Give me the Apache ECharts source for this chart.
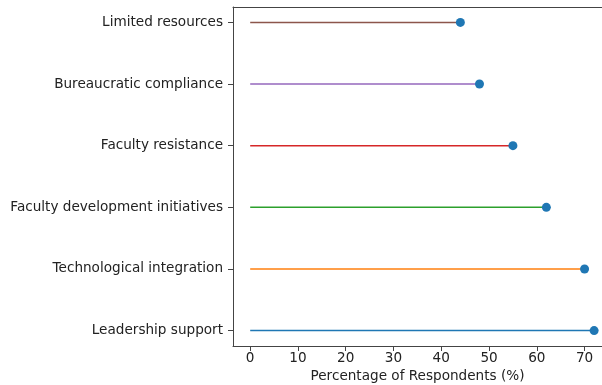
<!DOCTYPE html>
<html>
<head>
<meta charset="utf-8">
<script src="https://cdn.jsdelivr.net/npm/echarts@6/dist/echarts.min.js"></script>
<style>
  html, body { margin: 0; padding: 0; background: #fff; }
  #chart { width: 602px; height: 385px; }
</style>
</head>
<body>
<div id="chart"></div>
<script>
// bottom to top, as drawn
var categories = ['Leadership support', 'Technological integration', 'Faculty development initiatives',
  'Faculty resistance', 'Bureaucratic compliance', 'Limited resources'];
var values = [72, 70, 62, 55, 48, 44];
var lineColors = ['#1f77b4', '#ff7f0e', '#2ca02c', '#d62728', '#9467bd', '#8c564b'];
var xTicks = [0, 10, 20, 30, 40, 50, 60, 70];

var chart = echarts.init(document.getElementById('chart'));
var font = 'DejaVu Sans';
var txt = '#222';
var spine = '#444';

var stemData = values.map(function (v, i) { return [0, i, v]; });
var dotData = values.map(function (v, i) { return [v, i]; });
var yIdx = categories.map(function (c, i) { return i; });

var option = {
  backgroundColor: '#fff',
  animation: false,
  grid: { left: 233, right: 0, top: 7, bottom: 39, outerBoundsMode: 'none', containLabel: false },
  xAxis: [{
    type: 'value', min: -3.6, max: 73.65,
    name: 'Percentage of Respondents (%)', nameLocation: 'middle', nameGap: 23,
    nameTextStyle: { fontFamily: font, fontSize: 13.6, color: txt },
    axisLine: { show: true, onZero: false, lineStyle: { color: spine, width: 1 } },
    axisTick: { show: true, length: 5, customValues: xTicks, lineStyle: { color: spine } },
    axisLabel: { customValues: xTicks, margin: 5, fontFamily: font, fontSize: 13.6, color: txt },
    splitLine: { show: false }
  }, {
    type: 'value', position: 'top', min: -3.6, max: 73.65,
    axisLine: { show: true, onZero: false, lineStyle: { color: spine, width: 1 } },
    axisTick: { show: false }, axisLabel: { show: false }, splitLine: { show: false }
  }],
  yAxis: {
    type: 'value', min: -0.25, max: 5.25,
    axisLine: { show: true, onZero: false, lineStyle: { color: spine, width: 1 } },
    axisTick: { show: true, length: 5, customValues: yIdx, lineStyle: { color: spine } },
    axisLabel: {
      customValues: yIdx, margin: 10, fontFamily: font, fontSize: 13.6, color: txt,
      formatter: function (v) { return categories[Math.round(v)]; }
    },
    splitLine: { show: false }
  },
  series: [
    {
      type: 'custom',
      data: stemData,
      renderItem: function (params, api) {
        var i = api.value(1);
        var p0 = api.coord([api.value(0), i]);
        var p1 = api.coord([api.value(2), i]);
        return {
          type: 'line',
          shape: { x1: p0[0], y1: p0[1], x2: p1[0], y2: p1[1] },
          style: { stroke: lineColors[params.dataIndex], lineWidth: 1.5 }
        };
      },
      z: 2
    },
    {
      type: 'scatter',
      data: dotData,
      symbolSize: 9,
      itemStyle: { color: '#1f77b4', opacity: 1 },
      z: 3
    }
  ]
};
chart.setOption(option);
</script>
</body>
</html>
